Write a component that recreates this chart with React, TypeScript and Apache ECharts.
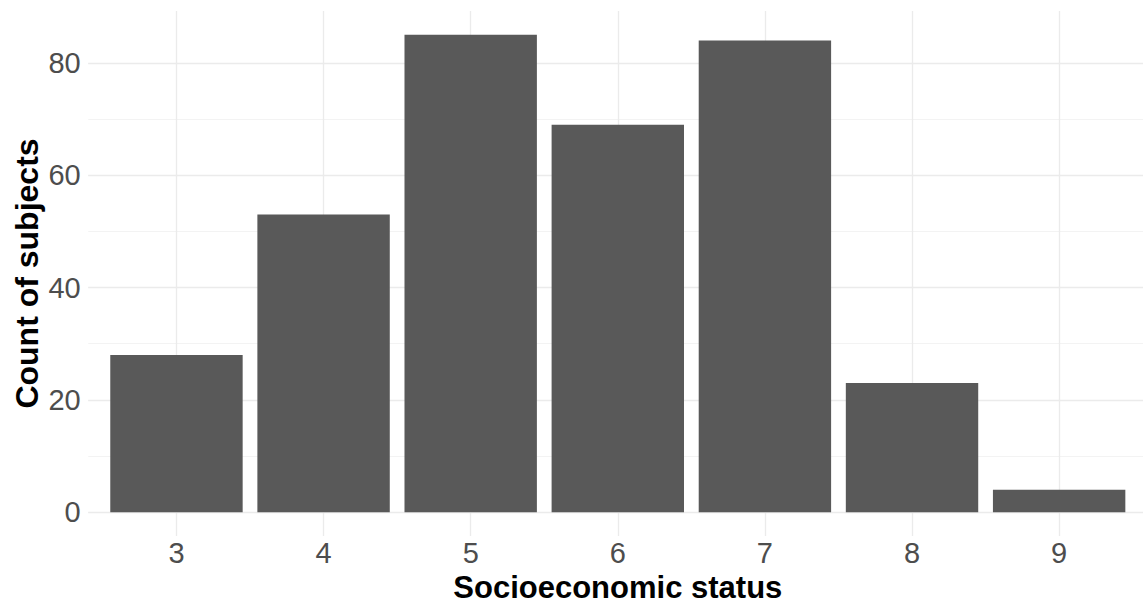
import React, { useEffect, useRef } from "react";
import * as echarts from "echarts";

const categories = ["3", "4", "5", "6", "7", "8", "9"];
const counts = [28, 53, 85, 69, 84, 23, 4];
const yTickMax = 80;
const xTitle = "Socioeconomic status";
const yTitle = "Count of subjects";

export default function App() {
  const ref = useRef<HTMLDivElement>(null);

  useEffect(() => {
    if (!ref.current) return;
    const chart = echarts.init(ref.current, null, { renderer: "svg" });

    const panelLeft = 88.2;
    const panelRight = 1147.4;
    const panelTop = 11;
    const panelBottom = 536;
    const n = categories.length;
    const xUnit = (panelRight - panelLeft) / (n + 0.2);
    const dataMax = Math.max(...counts);
    const yMax = dataMax * 1.05;
    const yMin = -dataMax * 0.05;
    const yScale = (panelBottom - panelTop) / (yMax - yMin);
    const y0 = panelTop + yMax * yScale;

    const font = "'Liberation Sans', Arial, sans-serif";
    const tickColor = "#4d4d4d";
    const gridColor = "#ebebeb";

    const firstVal = Number(categories[0]);
    const lastVal = Number(categories[n - 1]);

    chart.setOption({
      animation: false,
      backgroundColor: "#ffffff",
      grid: [
        // bars
        {
          left: panelLeft + 0.1 * xUnit,
          width: n * xUnit,
          top: panelTop,
          height: yMax * yScale,
          containLabel: false,
          outerBoundsMode: "none",
        },
        // horizontal grid lines
        {
          left: panelLeft,
          width: panelRight - panelLeft,
          top: y0 - yTickMax * yScale,
          height: yTickMax * yScale,
          containLabel: false,
          outerBoundsMode: "none",
        },
        // vertical grid lines
        {
          left: panelLeft + 0.6 * xUnit,
          width: (n - 1) * xUnit,
          top: panelTop,
          height: panelBottom - panelTop,
          containLabel: false,
          outerBoundsMode: "none",
        },
      ],
      xAxis: [
        {
          gridIndex: 0,
          type: "category",
          data: categories,
          boundaryGap: true,
          axisLine: { show: false },
          axisTick: { show: false },
          splitLine: { show: false },
          axisLabel: {
            margin: 26.5,
            fontSize: 29,
            color: tickColor,
            fontFamily: font,
          },
          name: xTitle,
          nameLocation: "middle",
          nameGap: 75,
          nameMoveOverlap: false,
          nameTextStyle: {
            fontSize: 31,
            lineHeight: 31,
            verticalAlign: "middle",
            fontWeight: "bold",
            color: "#000000",
            fontFamily: font,
          },
        },
        { gridIndex: 1, type: "value", min: 0, max: 1, show: false },
        {
          gridIndex: 2,
          type: "value",
          min: firstVal,
          max: lastVal,
          interval: 1,
          axisLine: { show: false },
          axisTick: { show: false },
          axisLabel: { show: false },
          splitLine: { show: true, lineStyle: { color: gridColor, width: 1.3 } },
        },
      ],
      yAxis: [
        { gridIndex: 0, type: "value", min: 0, max: yMax, show: false },
        // minor lines
        {
          gridIndex: 1,
          type: "value",
          min: 0,
          max: yTickMax,
          interval: 10,
          axisLine: { show: false },
          axisTick: { show: false },
          axisLabel: { show: false },
          splitLine: { show: true, lineStyle: { color: "#f0f0f0", width: 0.8 } },
        },
        // major lines + labels
        {
          gridIndex: 1,
          type: "value",
          position: "left",
          min: 0,
          max: yTickMax,
          interval: 20,
          axisLine: { show: false },
          axisTick: { show: false },
          axisLabel: {
            margin: 7.5,
            fontSize: 29,
            color: tickColor,
            fontFamily: font,
          },
          splitLine: { show: true, lineStyle: { color: gridColor, width: 1.3 } },
        },
        // title holder
        {
          gridIndex: 2,
          type: "value",
          min: 0,
          max: 1,
          axisLine: { show: false },
          axisTick: { show: false },
          axisLabel: { show: false },
          splitLine: { show: false },
          name: yTitle,
          nameLocation: "middle",
          nameGap: panelLeft + 0.6 * xUnit - 43,
          nameMoveOverlap: false,
          nameTextStyle: {
            fontSize: 32,
            fontWeight: "bold",
            color: "#000000",
            fontFamily: font,
          },
        },
      ],
      series: [
        {
          type: "bar",
          xAxisIndex: 0,
          yAxisIndex: 0,
          data: counts,
          barCategoryGap: "10%",
          itemStyle: { color: "#595959" },
          z: 5,
        },
      ],
    });

    return () => chart.dispose();
  }, []);

  return (
    <div
      style={{
        position: "absolute",
        left: 0,
        top: 0,
        width: 1143,
        height: 606,
        overflow: "hidden",
        background: "#ffffff",
      }}
    >
      <div ref={ref} style={{ width: 1150, height: 606 }} />
    </div>
  );
}
